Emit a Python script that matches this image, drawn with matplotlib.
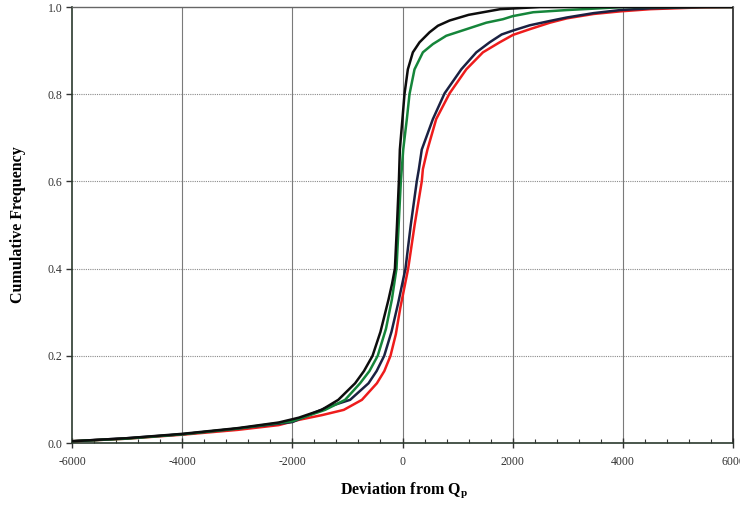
import matplotlib
matplotlib.use("Agg")
import matplotlib.pyplot as plt
from matplotlib.ticker import MultipleLocator

# Curve data (deviation from Qp, cumulative frequency)
black_x = [-6000, -5000, -4000, -3000, -2248, -1885, -1468, -1166, -860, -700, -544, -400, -254, -190, -138, -100, -66, -48, -20, 0, 36, 97, 188, 309, 491, 643, 855, 1200, 1773, 2500, 6000]
black_y = [0.004, 0.011, 0.021, 0.034, 0.047, 0.058, 0.076, 0.099, 0.137, 0.165, 0.200, 0.255, 0.329, 0.365, 0.400, 0.500, 0.600, 0.673, 0.715, 0.745, 0.800, 0.857, 0.896, 0.919, 0.942, 0.957, 0.969, 0.982, 0.995, 1.000, 1.000]

green_x = [-6000, -5000, -4000, -3000, -2000, -1405, -1042, -770, -600, -450, -300, -193, -109, -70, -30, 13, 79, 127, 218, 370, 552, 794, 1158, 1521, 1824, 2000, 2373, 2985, 3591, 4000, 6000]
green_y = [0.004, 0.010, 0.020, 0.033, 0.050, 0.076, 0.099, 0.137, 0.165, 0.200, 0.262, 0.329, 0.400, 0.500, 0.600, 0.673, 0.743, 0.800, 0.857, 0.896, 0.915, 0.934, 0.949, 0.964, 0.972, 0.979, 0.988, 0.993, 0.997, 1.000, 1.000]

navy_x = [-6000, -5000, -4000, -3000, -2000, -1347, -951, -617, -470, -332, -200, -80, 54, 150, 259, 297, 350, 552, 764, 1067, 1340, 1582, 1800, 2006, 2309, 2676, 2985, 3470, 3955, 4500, 5500, 6000]
navy_y = [0.004, 0.011, 0.020, 0.033, 0.048, 0.083, 0.099, 0.137, 0.165, 0.200, 0.255, 0.320, 0.400, 0.500, 0.600, 0.628, 0.673, 0.743, 0.802, 0.857, 0.896, 0.919, 0.937, 0.946, 0.958, 0.968, 0.976, 0.986, 0.993, 0.997, 1.000, 1.000]

red_x = [-6000, -5000, -4000, -3000, -2248, -1885, -1460, -1066, -737, -465, -330, -218, -120, -40, 103, 220, 350, 370, 453, 612, 855, 1158, 1460, 1764, 2006, 2309, 2676, 2985, 3470, 3955, 4500, 5400, 6000]
red_y = [0.004, 0.010, 0.019, 0.030, 0.041, 0.053, 0.064, 0.076, 0.099, 0.137, 0.165, 0.200, 0.250, 0.310, 0.400, 0.500, 0.600, 0.628, 0.673, 0.743, 0.802, 0.857, 0.896, 0.919, 0.936, 0.949, 0.964, 0.974, 0.984, 0.990, 0.995, 0.999, 1.000]

x_ticks = [-6000, -4000, -2000, 0, 2000, 4000, 6000]
y_ticks = [0.0, 0.2, 0.4, 0.6, 0.8, 1.0]

fig = plt.figure(figsize=(7.4, 5.05), dpi=100)
ax = fig.add_axes([72/740, 62/505, 661/740, 436/505])

serif = ["Liberation Serif", "DejaVu Serif"]

# grid
for yv in y_ticks[1:-1]:
    ax.axhline(yv, color="#8a8a8a", lw=0.8, ls=(0, (1, 1)), zorder=1)
for xv in x_ticks[1:-1]:
    ax.axvline(xv, color="#7a7a7a", lw=0.8, zorder=1)

ax.plot(red_x, red_y, color="#ee1c1c", lw=1.8, zorder=3)
ax.plot(navy_x, navy_y, color="#1b2142", lw=1.8, zorder=4)
ax.plot(green_x, green_y, color="#15853a", lw=1.8, zorder=5)
ax.plot(black_x, black_y, color="#0d0d0d", lw=1.8, zorder=6)

ax.set_xlim(-6000, 6000)
ax.set_ylim(0, 1.0)
ax.set_xticks(x_ticks)
ax.set_xticklabels([str(v) for v in x_ticks])
ax.set_yticks(y_ticks)
ax.set_yticklabels([f"{v:.1f}" for v in y_ticks])
ax.xaxis.set_minor_locator(MultipleLocator(400))

ax.spines["top"].set_color("#666666")
ax.spines["top"].set_linewidth(1.0)
ax.spines["right"].set_color("#222222")
ax.spines["right"].set_linewidth(1.2)
ax.spines["left"].set_color("#2b3a2e")
ax.spines["bottom"].set_color("#2b3a2e")
ax.spines["left"].set_linewidth(1.2)
ax.spines["bottom"].set_linewidth(1.2)

ax.tick_params(axis="x", which="major", direction="inout", length=7, width=1, color="#333333", pad=6)
ax.tick_params(axis="x", which="minor", direction="in", length=3, width=0.8, color="#333333")
ax.tick_params(axis="y", which="major", direction="out", length=4, width=1, color="#333333", pad=3)
for lab in ax.get_xticklabels() + ax.get_yticklabels():
    lab.set_fontfamily(serif)
    lab.set_fontsize(8.5)
    lab.set_color("#333333")

fig.text(404/740, 1 - 490/505, r"Deviation from Q$_\mathregular{p}$", ha="center", va="center",
         fontsize=11.5, fontweight="bold", family=serif)
fig.text(18/740, 1 - 225/505, "Cumulative Frequency", ha="center", va="center", rotation=90,
         fontsize=11.5, fontweight="bold", family=serif)

fig.savefig("out.png", dpi=100)
